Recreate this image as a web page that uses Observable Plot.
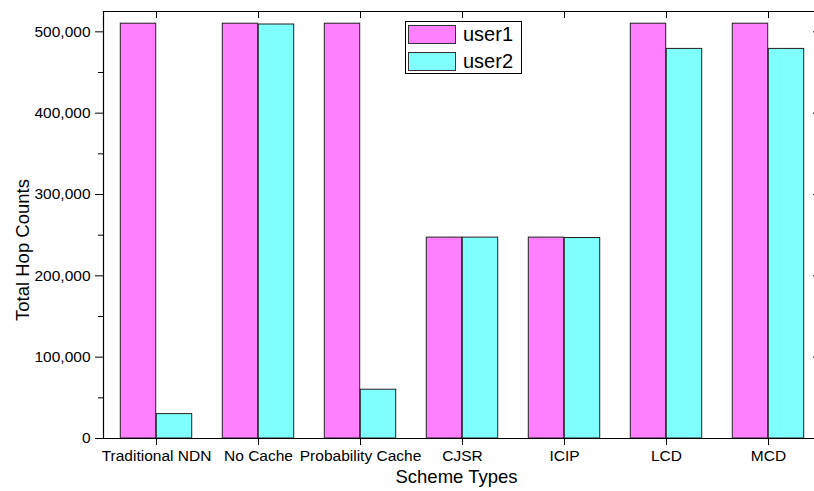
<!DOCTYPE html>
<html>
<head>
<meta charset="utf-8">
<script src="https://cdn.jsdelivr.net/npm/d3@7"></script>
<script src="https://cdn.jsdelivr.net/npm/@observablehq/plot@0.6"></script>
<style>
  html, body { margin: 0; padding: 0; background: #fff; overflow: hidden; }
  #wrap { position: relative; width: 814px; height: 491px; }
  #legend { position: absolute; left: 405px; top: 21px; width: 115px; height: 51px;
            border: 1px solid #000; background: #fff; font-family: "Liberation Sans", Arial, sans-serif; }
  .row { position: absolute; left: 2px; height: 19px; display: flex; align-items: center; }
  .sw { width: 46px; height: 17px; border: 1px solid #333; }
  .lab { margin-left: 7px; font-size: 20px; line-height: 19px; color: #000; }
</style>
</head>
<body>
<div id="wrap"></div>
<script>
const categories = ["Traditional NDN", "No Cache", "Probability Cache", "CJSR", "ICIP", "LCD", "MCD"];
const user1 = [510000, 510000, 510000, 247000, 247000, 510000, 510000];
const user2 = [30000, 509000, 60000, 247000, 246500, 479000, 479000];
const seriesNames = ["user1", "user2"];
const seriesColors = ["#FF80FF", "#80FFFF"];
const majorTicks = [0, 100000, 200000, 300000, 400000, 500000];
const minorTicks = [50000, 150000, 250000, 350000, 450000];
const yMax = 525000;
const xTitle = "Scheme Types";
const yTitle = "Total Hop Counts";

const barW = 36;
const bandW = (814 - 103 + 7) / categories.length;
const inset = (bandW - barW) / 2;

const chart = Plot.plot({
  width: 814,
  height: 491,
  marginLeft: 103,
  marginRight: -7,
  marginTop: 11,
  marginBottom: 53,
  style: { fontFamily: "'Liberation Sans', Arial, sans-serif", fontSize: "15.5px", color: "#000", background: "#fff" },
  x: { domain: categories, padding: 0 },
  y: { domain: [0, yMax] },
  marks: [
    Plot.barY(user1, { x: categories, y: d => d, fill: seriesColors[0], stroke: "#222", strokeWidth: 1,
      insetLeft: inset, insetRight: inset, dx: -barW / 2 }),
    Plot.barY(user2, { x: categories, y: d => d, fill: seriesColors[1], stroke: "#222", strokeWidth: 1,
      insetLeft: inset, insetRight: inset, dx: barW / 2 }),
    Plot.ruleY([0, yMax], { stroke: "#000", strokeWidth: 1.2 }),
    Plot.frame({ anchor: "left", stroke: "#000", strokeWidth: 1.2 }),
    Plot.axisY({ anchor: "left", ticks: majorTicks, tickSize: 8, tickPadding: 5,
      tickFormat: d3.format(","), label: null }),
    Plot.axisY({ anchor: "left", ticks: minorTicks, tickSize: 5, tickFormat: () => "", label: null }),
    Plot.axisY({ anchor: "right", ticks: majorTicks, tickSize: -9, tickFormat: () => "", label: null }),
    Plot.axisY({ anchor: "right", ticks: minorTicks, tickSize: -5, tickFormat: () => "", label: null }),
    Plot.axisX({ anchor: "bottom", tickSize: 7, tickPadding: 4, label: null }),
    Plot.axisX({ anchor: "top", tickSize: -6, tickFormat: () => "", label: null }),
    Plot.text([xTitle], { text: d => d, frameAnchor: "bottom", dx: -6, dy: 44, fontSize: 18.5 }),
    Plot.text([yTitle], { text: d => d, frameAnchor: "left", textAnchor: "middle", dx: -80.5, dy: 25, rotate: -90, fontSize: 18.5 })
  ]
});

const wrap = document.getElementById("wrap");
wrap.appendChild(chart);

const legend = document.createElement("div");
legend.id = "legend";
seriesNames.forEach((name, i) => {
  const row = document.createElement("div");
  row.className = "row";
  row.style.top = (3 + i * 26.7) + "px";
  const sw = document.createElement("div");
  sw.className = "sw";
  sw.style.background = seriesColors[i];
  const lab = document.createElement("span");
  lab.className = "lab";
  lab.textContent = name;
  row.appendChild(sw);
  row.appendChild(lab);
  legend.appendChild(row);
});
wrap.appendChild(legend);
</script>
</body>
</html>
